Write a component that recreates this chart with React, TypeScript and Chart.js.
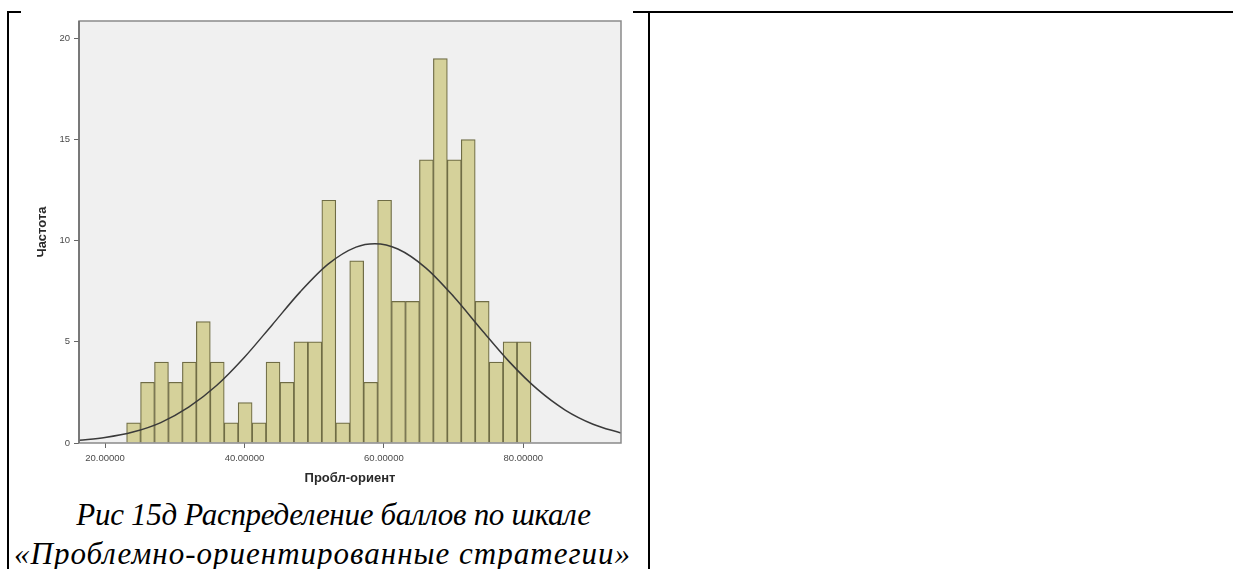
import { useEffect, useRef } from "react";
import { Chart, registerables } from "chart.js";

Chart.register(...registerables);

// Histogram bins (bin centres, width 2) and their counts
const binCenters = [
  24.1, 26.1, 28.1, 30.1, 32.1, 34.1, 36.1, 38.1, 40.1, 42.1, 44.1, 46.1, 48.1, 50.1, 52.1,
  54.1, 56.1, 58.1, 60.1, 62.1, 64.1, 66.1, 68.1, 70.1, 72.1, 74.1, 76.1, 78.1, 80.1,
];
const frequencies = [
  1, 3, 4, 3, 4, 6, 4, 1, 2, 1, 4, 3, 5, 5, 12, 1, 9, 3, 12, 7, 7, 14, 19, 14, 15, 7, 4, 5, 5,
];

// Fitted normal curve, sampled points
const curveX = [16.3, 20, 24, 28, 32, 36, 40, 44, 48, 52, 56, 58.7, 62, 66, 70, 74, 78, 82, 86, 90, 94];
const curveY = [0.13, 0.27, 0.54, 1.01, 1.77, 2.84, 4.24, 5.85, 7.47, 8.84, 9.68, 9.85, 9.59, 8.66, 7.24, 5.6, 4.01, 2.66, 1.63, 0.93, 0.49];

const xTicks = [20, 40, 60, 80];
const yTicks = [0, 5, 10, 15, 20];

const X_MIN = 16.27;
const X_MAX = 94.01;
const Y_MAX = 20.86;

const xTitle = "Пробл-ориент";
const yTitle = "Частота";
const captionLine1 = "Рис 15д Распределение баллов по шкале";
const captionLine2 = "«Проблемно-ориентированные стратегии»";

const SANS = "'Liberation Sans', Arial, sans-serif";
const SERIF = "'Liberation Serif', 'Times New Roman', serif";

const plotFrame = {
  id: "plotFrame",
  beforeDraw(chart: any) {
    const { ctx, chartArea } = chart;
    const { left, top, right, bottom } = chartArea;
    ctx.save();
    ctx.fillStyle = "#ffffff";
    ctx.fillRect(0, 0, chart.width, chart.height);
    ctx.fillStyle = "#f0f0f0";
    ctx.fillRect(left, top, right - left, bottom - top);
    ctx.restore();
  },
  afterDraw(chart: any) {
    const { ctx, chartArea } = chart;
    const { left, top, right, bottom } = chartArea;
    ctx.save();
    ctx.strokeStyle = "#8a8a8a";
    ctx.lineWidth = 1.5;
    ctx.strokeRect(left, top, right - left, bottom - top);
    ctx.strokeStyle = "#6a6a6a";
    ctx.beginPath();
    ctx.moveTo(left, top);
    ctx.lineTo(left, bottom);
    ctx.stroke();
    ctx.restore();
  },
};

function Histogram() {
  const ref = useRef<HTMLCanvasElement | null>(null);

  useEffect(() => {
    if (!ref.current) return;
    const chart = new Chart(ref.current, {
      type: "bar",
      data: {
        datasets: [
          {
            type: "line",
            data: curveX.map((x, i) => ({ x, y: curveY[i] })),
            borderColor: "#3a3a3a",
            borderWidth: 1.5,
            pointRadius: 0,
            cubicInterpolationMode: "monotone",
            fill: false,
            order: 0,
          } as any,
          {
            type: "bar",
            data: binCenters.map((x, i) => ({ x, y: frequencies[i] })),
            backgroundColor: "#d5d19a",
            borderColor: "#6f6c45",
            borderWidth: 1.2,
            barPercentage: 1,
            categoryPercentage: 1,
            order: 1,
          } as any,
        ],
      },
      options: {
        responsive: false,
        animation: false,
        devicePixelRatio: 1,
        layout: { padding: { left: 0, top: 21, right: 12, bottom: 0 } },
        plugins: { legend: { display: false }, tooltip: { enabled: false } },
        scales: {
          x: {
            type: "linear",
            min: X_MIN,
            max: X_MAX,
            offset: false,
            afterBuildTicks: (axis: any) => {
              axis.ticks = xTicks.map((v) => ({ value: v }));
            },
            afterFit: (s: any) => {
              s.height = 51;
            },
            grid: {
              offset: false,
              drawOnChartArea: false,
              drawTicks: true,
              tickLength: 5,
              color: "#666666",
            },
            border: { display: false },
            ticks: {
              color: "#4a4a4a",
              font: { family: SANS, size: 9.5 },
              padding: 5,
              maxRotation: 0,
              autoSkip: false,
              callback: (v: any) => Number(v).toFixed(5),
            },
            title: {
              display: true,
              text: xTitle,
              color: "#2a2a2a",
              font: { family: SANS, size: 13, weight: "bold" },
              padding: { top: 0, bottom: 8 },
            },
          },
          y: {
            type: "linear",
            min: 0,
            max: Y_MAX,
            afterBuildTicks: (axis: any) => {
              axis.ticks = yTicks.map((v) => ({ value: v }));
            },
            afterFit: (s: any) => {
              s.width = 58;
            },
            grid: {
              offset: false,
              drawOnChartArea: false,
              drawTicks: true,
              tickLength: 5,
              color: "#666666",
            },
            border: { display: false },
            ticks: {
              color: "#4a4a4a",
              font: { family: SANS, size: 9.5 },
              padding: 4,
              autoSkip: false,
              callback: (v: any) => String(v),
            },
            title: {
              display: true,
              text: yTitle,
              color: "#2a2a2a",
              font: { family: SANS, size: 13, weight: "bold" },
              padding: { top: 14, bottom: 0 },
            },
          },
        },
      },
      plugins: [plotFrame],
    });
    return () => chart.destroy();
  }, []);

  return (
    <canvas
      ref={ref}
      width={612}
      height={494}
      style={{ position: "absolute", left: 21, top: 0, width: 612, height: 494, zIndex: 2 }}
    />
  );
}

export default function App() {
  const line = (style: React.CSSProperties) => (
    <div style={{ position: "absolute", background: "#000", zIndex: 1, ...style }} />
  );
  const captionStyle: React.CSSProperties = {
    position: "absolute",
    left: 9,
    width: 639,
    textAlign: "center",
    fontFamily: SERIF,
    fontStyle: "italic",
    fontSize: 31,
    lineHeight: "31px",
    whiteSpace: "nowrap",
    color: "#000",
    zIndex: 3,
  };
  return (
    <div
      style={{
        position: "absolute",
        left: 0,
        top: 0,
        width: 1233,
        height: 569,
        overflow: "hidden",
        background: "#fff",
      }}
    >
      {line({ left: 7, top: 11, width: 1226, height: 2 })}
      {line({ left: 7, top: 11, width: 2, height: 558 })}
      {line({ left: 648, top: 11, width: 2, height: 558 })}
      <Histogram />
      <div style={{ ...captionStyle, top: 499, left: 14, letterSpacing: "-0.3px" }}>{captionLine1}</div>
      <div style={{ ...captionStyle, top: 538, left: 3, letterSpacing: "1px" }}>{captionLine2}</div>
    </div>
  );
}
